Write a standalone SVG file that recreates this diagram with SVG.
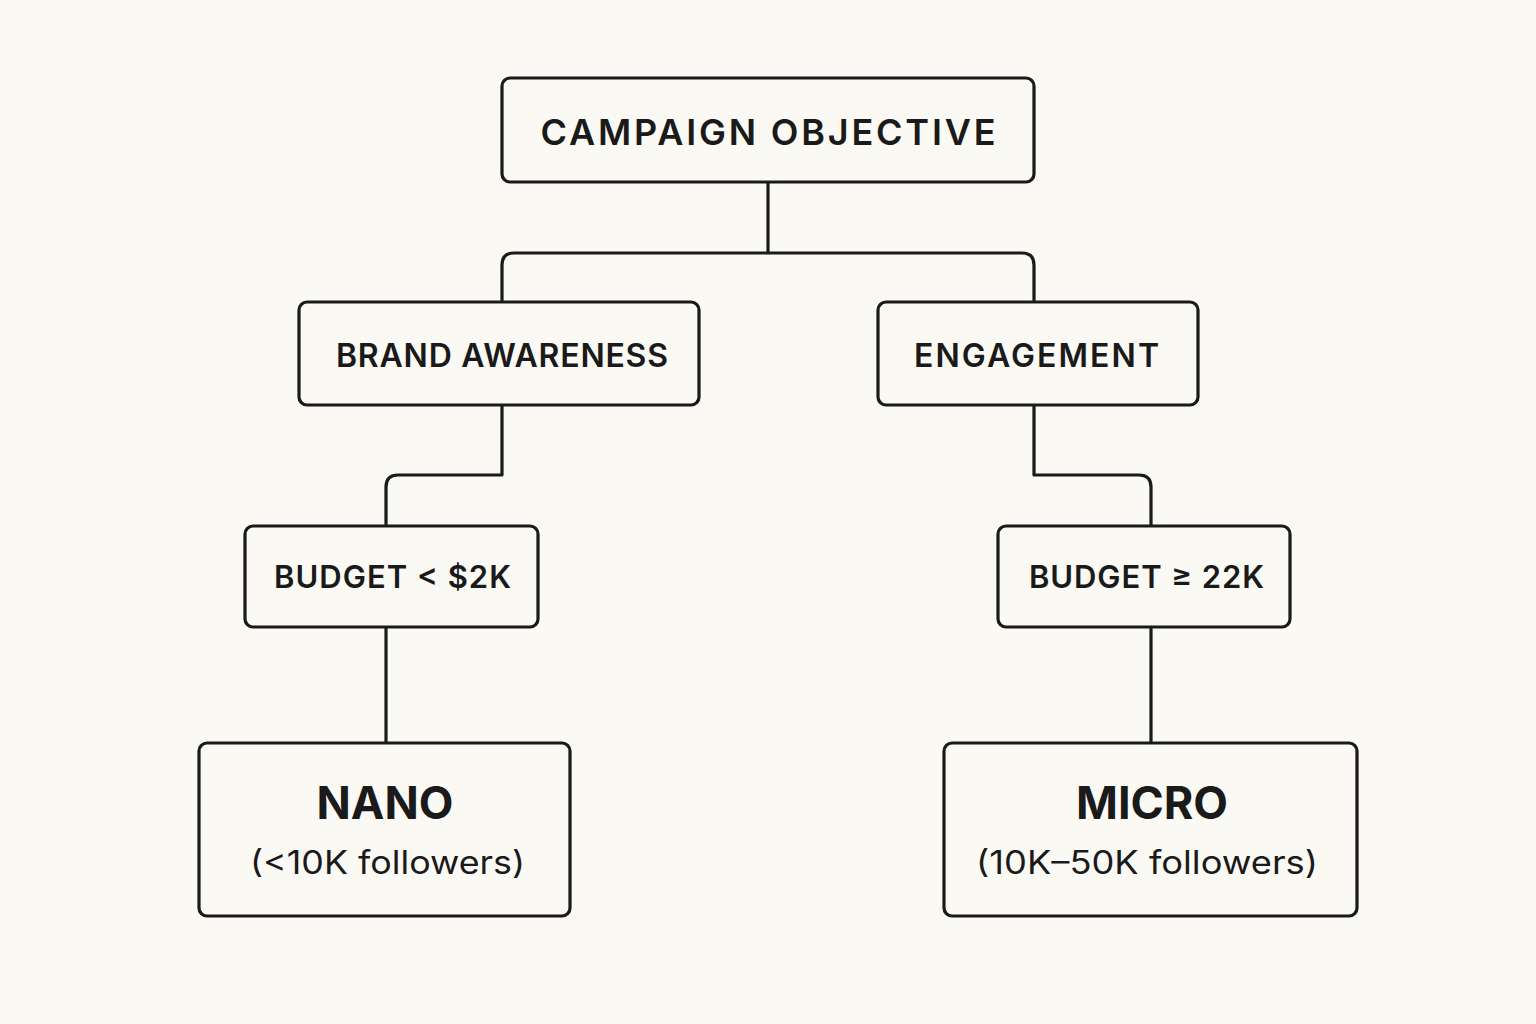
<svg xmlns="http://www.w3.org/2000/svg" width="1536" height="1024" viewBox="0 0 1536 1024">
  <style>
    .box { fill: #fbf9f4; stroke: #1a1a1a; stroke-width: 3.2; }
    .conn { fill: none; stroke: #1a1a1a; stroke-width: 3.2; stroke-linejoin: round; }
    .lbl { font-family: Inter, "Noto Sans", "Liberation Sans", sans-serif; fill: #1a1a1a; text-anchor: middle; font-weight: 600; }
    .big { font-weight: 700; }
    .sub { font-weight: 400; }
  </style>
  <rect width="1536" height="1024" fill="#fbf9f4"/>
  <g id="connectors">
    <path class="conn" d="M768,182 V253"/>
    <path class="conn" d="M502,302 V265 Q502,253 514,253 H1022 Q1034,253 1034,265 V302"/>
    <path class="conn" d="M502,405 V475 H398 Q386,475 386,487 V526"/>
    <path class="conn" d="M1034,405 V475 H1139 Q1151,475 1151,487 V526"/>
    <path class="conn" d="M386,627 V743"/>
    <path class="conn" d="M1151,627 V743"/>
  </g>
  <g id="campaign-objective">
    <rect class="box" x="502" y="78" width="532" height="104" rx="8"/>
    <text class="lbl" x="768" y="145" font-size="36" textLength="455" lengthAdjust="spacing">CAMPAIGN OBJECTIVE</text>
  </g>
  <g id="brand-awareness">
    <rect class="box" x="299" y="302" width="400" height="103" rx="8"/>
    <text class="lbl" x="502" y="367" font-size="32" textLength="332" lengthAdjust="spacing">BRAND AWARENESS</text>
  </g>
  <g id="engagement">
    <rect class="box" x="878" y="302" width="320" height="103" rx="8"/>
    <text class="lbl" x="1036.5" y="367" font-size="32" textLength="245" lengthAdjust="spacing">ENGAGEMENT</text>
  </g>
  <g id="budget-low">
    <rect class="box" x="245" y="526" width="293" height="101" rx="8"/>
    <text class="lbl" x="392.5" y="588" font-size="31" textLength="237" lengthAdjust="spacing">BUDGET &lt; $2K</text>
  </g>
  <g id="budget-high">
    <rect class="box" x="998" y="526" width="292" height="101" rx="8"/>
    <text class="lbl" x="1146.5" y="588" font-size="31" textLength="235" lengthAdjust="spacing">BUDGET ≥ 22K</text>
  </g>
  <g id="nano">
    <rect class="box" x="199" y="743" width="371" height="173" rx="8"/>
    <text class="lbl big" x="385" y="819" font-size="45">NANO</text>
    <text class="lbl sub" x="387.5" y="874" font-size="32" textLength="275" lengthAdjust="spacingAndGlyphs">(&lt;10K followers)</text>
  </g>
  <g id="micro">
    <rect class="box" x="944" y="743" width="413" height="173" rx="8"/>
    <text class="lbl big" x="1152" y="819" font-size="45">MICRO</text>
    <text class="lbl sub" x="1147" y="874" font-size="32" textLength="342" lengthAdjust="spacingAndGlyphs">(10K–50K followers)</text>
  </g>
</svg>
